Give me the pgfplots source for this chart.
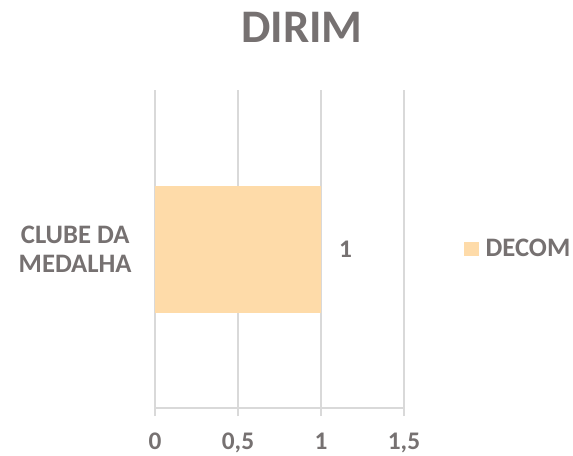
\documentclass[border=0pt]{standalone}
\usepackage{pgfplots}
\pgfplotsset{compat=1.18}
\usepackage{fontspec}
\setmainfont{Carlito}
\definecolor{txt}{HTML}{767171}
\definecolor{barc}{HTML}{FEDBA9}
\definecolor{gridc}{HTML}{D9D9D9}
\begin{document}
\begin{tikzpicture}[x=0.75pt,y=0.75pt]
\useasboundingbox (0,0) rectangle (573,-455);
\node[font=\fontsize{35}{40}\selectfont\bfseries, text=txt] at (302,-27) {DIRIM};
\begin{axis}[
  at={(155pt*0.75,-408pt*0.75)}, anchor=south west,
  scale only axis, width=186.75pt, height=238.5pt,
  xmin=0, xmax=1.5, ymin=-0.5, ymax=0.5,
  xtick={0,0.5,1,1.5},
  xticklabels={0,{0,5},1,{1,5}},
  ytick={0}, yticklabels={CLUBE DA\\MEDALHA},
  yticklabel style={align=center, font=\fontsize{20}{21.5}\selectfont\bfseries, text=txt, xshift=-8pt},
  xticklabel style={font=\fontsize{19}{21}\selectfont\bfseries, text=txt, yshift=-9pt},
  axis x line=bottom, axis y line=left,
  axis line style={draw=gridc, line width=1pt, -},
  xmajorgrids, grid style={draw=gridc, line width=1pt},
  major x tick style={draw=gridc, line width=1pt},
  major y tick style={draw=none},
  tick align=outside, major tick length=6pt,
  xbar, bar width=95.25pt,
  nodes near coords, nodes near coords style={font=\fontsize{19}{21}\selectfont\bfseries, text=txt, xshift=10pt},
  /pgf/number format/assume math mode=true,
  legend style={at={(1.225,0.5)}, anchor=west, draw=none, font=\fontsize{20}{21}\selectfont\bfseries, text=txt, nodes={inner xsep=5pt}},
  legend image code/.code={\fill[#1] (0pt,-5.5pt) rectangle (11pt,5.5pt);},
]
\addplot[fill=barc, draw=none] coordinates {(1,0)};
\addlegendentry{DECOM}
\end{axis}
\end{tikzpicture}
\end{document}
